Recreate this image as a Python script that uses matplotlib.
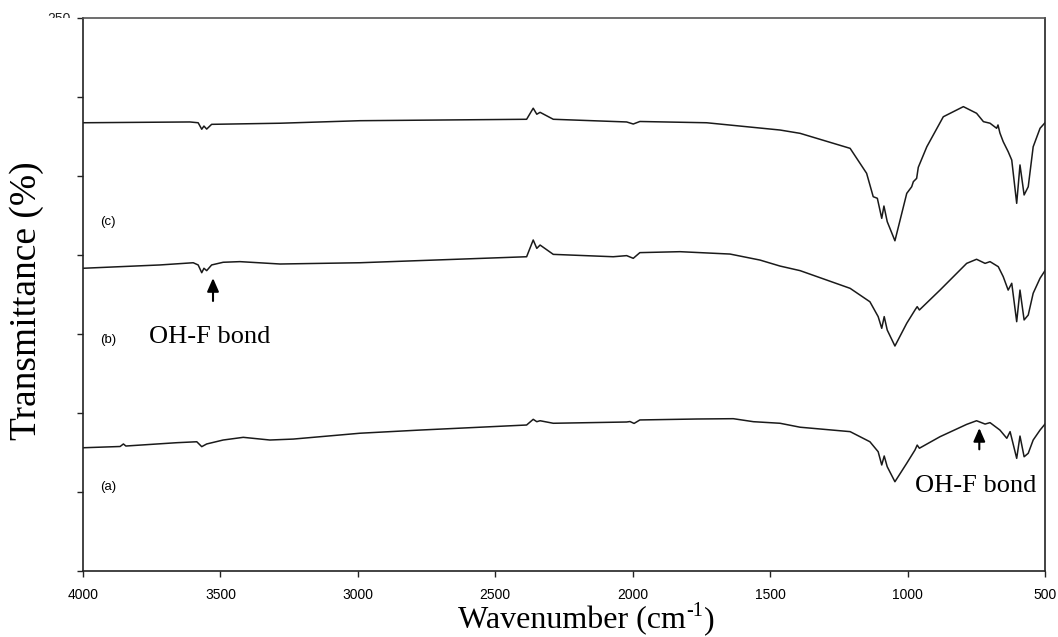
import matplotlib
matplotlib.use("Agg")
import matplotlib.pyplot as plt
from matplotlib.transforms import Bbox

# Wavenumber (cm-1) and transmittance readings for the three spectra
wn_a = [4000, 3865, 3853, 3844, 3659, 3586, 3568, 3550, 3490, 3417, 3320, 3235,
        2992, 2774, 2386, 2362, 2349, 2337, 2289, 2022, 2010, 1995, 1974, 1767,
        1634, 1561, 1464, 1391, 1209, 1137, 1107, 1094, 1085, 1074, 1046, 1003,
        973, 965, 957, 882, 785, 749, 718, 700, 664, 639, 627, 603, 591, 576,
        561, 543, 518, 500]
t_a = [-22.0, -21.2, -19.6, -20.9, -18.8, -18.2, -21.3, -19.6, -17.1, -15.4,
       -17.1, -16.5, -12.8, -10.8, -7.6, -4.0, -5.5, -4.9, -6.5, -5.7, -5.4,
       -6.6, -4.4, -3.8, -3.6, -5.5, -6.5, -9.0, -11.8, -18.2, -24.5, -32.9,
       -27.2, -34.0, -43.5, -31.8, -23.4, -20.3, -22.3, -15.0, -7.2, -4.9,
       -7.0, -6.1, -10.8, -16.0, -11.8, -28.7, -14.6, -27.7, -25.5, -17.1,
       -10.8, -7.0]

wn_b = [4000, 3720, 3599, 3581, 3568, 3560, 3550, 3532, 3490, 3429, 3283, 2992,
        2386, 2362, 2349, 2337, 2289, 2071, 2022, 1998, 1974, 1828, 1646, 1537,
        1464, 1391, 1209, 1137, 1107, 1094, 1085, 1074, 1046, 1003, 973, 965,
        957, 882, 785, 749, 718, 700, 670, 652, 634, 621, 603, 591, 576, 561,
        543, 518, 500]
t_b = [91.6, 93.7, 95.1, 93.7, 88.8, 91.6, 90.1, 93.7, 95.4, 95.8, 94.3, 95.1,
       98.9, 109.5, 104.2, 106.3, 100.4, 98.9, 99.6, 97.9, 101.5, 102.1, 100.6,
       96.8, 93.0, 90.1, 78.9, 70.4, 61.0, 53.6, 61.0, 52.5, 42.4, 56.8, 65.2,
       67.3, 65.2, 77.8, 94.7, 97.3, 94.7, 95.8, 92.6, 86.3, 77.8, 82.1, 57.8,
       77.8, 58.9, 62.0, 75.8, 85.3, 90.1]

wn_c = [4000, 3611, 3581, 3568, 3560, 3550, 3532, 3283, 2992, 2386, 2362, 2349,
        2337, 2289, 2022, 1998, 1974, 1731, 1464, 1391, 1209, 1149, 1125, 1110,
        1094, 1086, 1074, 1046, 1003, 985, 979, 967, 961, 930, 870, 797, 749,
        724, 700, 676, 671, 664, 652, 634, 621, 603, 591, 576, 561, 543, 518, 500]
t_c = [183.7, 184.2, 183.7, 179.6, 181.6, 179.7, 182.7, 183.4, 185.0, 185.9,
       192.9, 189.1, 190.3, 185.9, 184.2, 182.9, 184.5, 183.7, 179.1, 177.0,
       167.5, 151.7, 136.9, 135.9, 123.2, 131.0, 121.1, 109.0, 139.0, 143.2,
       146.4, 148.5, 155.5, 168.5, 187.5, 193.9, 189.7, 184.4, 183.4, 180.2,
       182.3, 177.2, 171.7, 165.4, 160.1, 132.7, 157.0, 138.0, 143.2, 168.5,
       180.2, 183.7]

x_ticks = [4000, 3500, 3000, 2500, 2000, 1500, 1000, 500]
y_ticks = [-100, -50, 0, 50, 100, 150, 200, 250]

sans = ["Liberation Sans", "DejaVu Sans"]
serif = ["Liberation Serif", "DejaVu Serif"]

fig = plt.figure(figsize=(10.58, 6.37), dpi=100)
ax = fig.add_axes([83 / 1058, 1 - 571 / 637, (1045 - 83) / 1058, (571 - 18) / 637])

line_kw = dict(color="#1a1a1a", lw=1.1)
ax.plot(wn_a, t_a, **line_kw)
ax.plot(wn_b, t_b, **line_kw)
ax.plot(wn_c, t_c, **line_kw)

ax.set_xlim(4000, 500)
ax.set_ylim(-100, 250)
ax.set_xticks(x_ticks)
ax.set_xticklabels([str(v) for v in x_ticks], family=sans, fontsize=10)
ax.set_yticks(y_ticks)
ax.set_yticklabels([""] * len(y_ticks))
ax.tick_params(direction="out", length=4, width=1, color="#222222", pad=8)
for s in ax.spines.values():
    s.set_linewidth(1.2)
    s.set_color("#222222")
ax.spines["top"].set_color("#555555")

# top y tick value, cut by the frame edge
top_lbl = fig.text(71 / 1058, 1 - 19 / 637, "250", family=sans, fontsize=10,
                   ha="right", va="center", color="#222222")
top_lbl.set_clip_box(Bbox.from_extents(0, 637 - 17.5, 1058, 637))
top_lbl.set_clip_on(True)

# x axis title built from pieces so the exponent keeps a plain hyphen
yb = 1 - 628 / 637
t1 = fig.text(458 / 1058, yb, "Wavenumber (cm", family=serif, fontsize=23,
              ha="left", va="baseline")
t2 = ax.annotate("-1", xy=(1, yb), xycoords=(t1, "figure fraction"),
                 xytext=(0.5, 8.5), textcoords="offset points", family=serif,
                 fontsize=14.5, ha="left", va="baseline", annotation_clip=False)
ax.annotate(")", xy=(1, yb), xycoords=(t2, "figure fraction"),
            xytext=(0.5, 0), textcoords="offset points", family=serif,
            fontsize=23, ha="left", va="baseline", annotation_clip=False)

fig.text(27 / 1058, 1 - 301 / 637, "Transmittance (%)", family=serif, fontsize=27,
         rotation=90, ha="center", va="center")

# sample labels
for lbl, y in (("(c)", 120.9), ("(b)", 46.2), ("(a)", -46.8)):
    ax.text(3909, y, lbl, family=sans, fontsize=9.5, ha="center", va="center")

# OH-F bond markers
arrow_kw = dict(arrowstyle="-|>,head_width=0.35,head_length=0.8", color="black",
                lw=1.5, shrinkA=0, shrinkB=0)
ax.annotate("", xy=(3527, 85.4), xytext=(3527, 70.9), arrowprops=arrow_kw)
ax.text(3538, 48.1, "OH-F bond", family=serif, fontsize=19, ha="center", va="center")
ax.annotate("", xy=(739, -9.5), xytext=(739, -23.0), arrowprops=arrow_kw)
ax.text(752, -46.2, "OH-F bond", family=serif, fontsize=19, ha="center", va="center")

fig.savefig("out.png", dpi=100)
